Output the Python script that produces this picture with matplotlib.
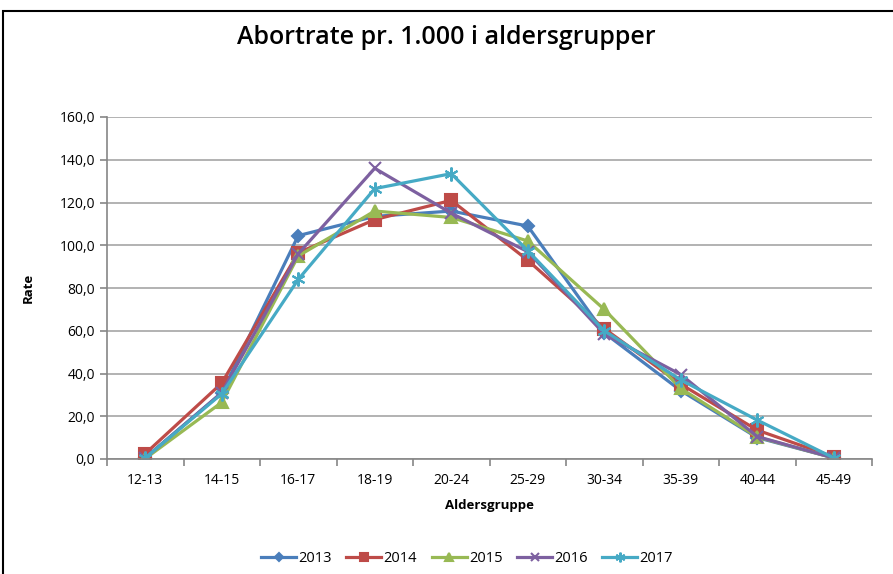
import matplotlib.pyplot as plt
from matplotlib.ticker import FuncFormatter, FixedLocator
from matplotlib.patches import Rectangle

# Abortion rate per 1000 by age group
AGE_GROUPS = ['12-13', '14-15', '16-17', '18-19', '20-24',
              '25-29', '30-34', '35-39', '40-44', '45-49']
RATE_2013 = [0.5, 31.0, 104.5, 113.5, 116.0, 109.0, 59.0, 32.0, 10.0, 0.5]
RATE_2014 = [2.5, 35.5, 96.5, 112.0, 121.0, 93.0, 61.0, 35.0, 13.5, 1.0]
RATE_2015 = [0.2, 26.5, 95.0, 116.0, 113.0, 102.0, 70.0, 33.0, 10.3, 0.5]
RATE_2016 = [0.5, 31.0, 96.0, 136.0, 115.0, 97.0, 58.5, 39.5, 10.5, 0.5]
RATE_2017 = [0.5, 30.5, 84.0, 126.5, 133.5, 97.5, 60.0, 37.0, 18.2, 0.5]
YEARS = ['2013', '2014', '2015', '2016', '2017']

SERIES = [RATE_2013, RATE_2014, RATE_2015, RATE_2016, RATE_2017]
COLORS = ['#4A7EBB', '#BE4B48', '#98B954', '#7D60A0', '#46AAC5']
MARKERS = ['D', 's', '^', 'x', (6, 2, 0)]
MSIZES = [6, 8, 8, 9, 10]

plt.rcParams['font.family'] = ['Open Sans', 'DejaVu Sans']

fig = plt.figure(figsize=(8.93, 5.74), dpi=100)
ax = fig.add_axes([107 / 893, 1 - 459 / 574, 765 / 893, 342 / 574])

# outer chart frame (top and left edges visible)
fig.patches.append(Rectangle((3 / 893, -0.05), 1.2, 1 - 11 / 574 + 0.05,
                             transform=fig.transFigure, fill=False,
                             edgecolor='black', linewidth=1.5, zorder=0))

x = list(range(len(AGE_GROUPS)))
for vals, year, c, m, ms in zip(SERIES, YEARS, COLORS, MARKERS, MSIZES):
    ax.plot(x, vals, color=c, linewidth=2.3, marker=m, markersize=ms,
            markeredgecolor=c, markerfacecolor=c, markeredgewidth=1.5,
            label=year)

ax.set_xlim(-0.5, len(AGE_GROUPS) - 0.5)
ax.set_ylim(0, 160)
ax.set_yticks(range(0, 161, 20))
ax.yaxis.set_major_formatter(FuncFormatter(lambda v, p: f'{v:.1f}'.replace('.', ',')))
ax.grid(axis='y', color='#A6A6A6', linewidth=1.2)
ax.set_axisbelow(True)

# category ticks: labels centered, tick marks on boundaries
ax.set_xticks(x)
ax.set_xticklabels(AGE_GROUPS)
ax.tick_params(axis='x', which='major', length=0, pad=10, labelsize=10)
ax.xaxis.set_minor_locator(FixedLocator([i - 0.5 for i in range(len(AGE_GROUPS) + 1)]))
ax.tick_params(axis='x', which='minor', length=5, color='#868686', width=1.2)
ax.tick_params(axis='y', length=5, color='#868686', width=1.2, labelsize=10)

for s in ['top', 'right']:
    ax.spines[s].set_visible(False)
for s in ['left', 'bottom']:
    ax.spines[s].set_color('#868686')
    ax.spines[s].set_linewidth(1.2)

ax.set_xlabel('Aldersgruppe', fontsize=9.5, fontweight='bold', labelpad=8)
ax.set_ylabel('Rate', fontsize=9.5, fontweight='bold', labelpad=18)

fig.text(0.5, 1 - 38 / 574, 'Abortrate pr. 1.000 i aldersgrupper',
         ha='center', va='center', fontsize=18, fontweight='semibold')

fig.legend(loc='center', bbox_to_anchor=(0.523, 1 - 559 / 574), ncol=5,
           frameon=False, fontsize=10.5, handlelength=2.4, columnspacing=1.0,
           handletextpad=0.15, markerscale=0.7)

fig.savefig('out.png', dpi=100)
